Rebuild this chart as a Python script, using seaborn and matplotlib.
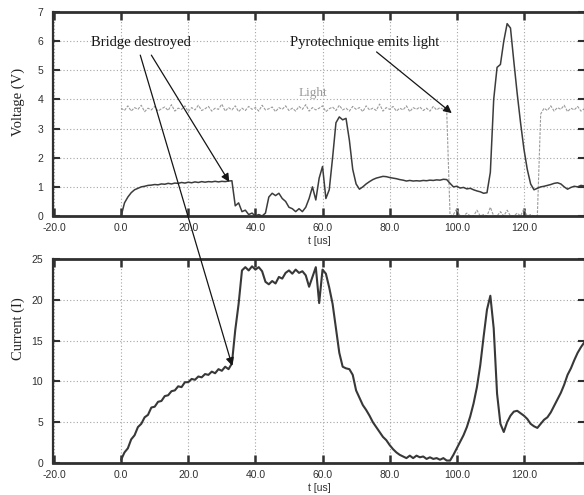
import numpy as np
import pandas as pd
import matplotlib
matplotlib.use("Agg")
import matplotlib.pyplot as plt
import seaborn as sns

# ---------------- data ----------------
t_us = list(range(0, 139))

voltage = [0.0, 0.45, 0.65, 0.8, 0.9, 0.95, 1.0, 1.02, 1.05, 1.06,
           1.08, 1.07, 1.1, 1.09, 1.12, 1.1, 1.13, 1.12, 1.15, 1.13,
           1.16, 1.14, 1.17, 1.15, 1.18, 1.16, 1.18, 1.17, 1.19, 1.17,
           1.19, 1.18, 1.2, 1.21, 0.35, 0.45, 0.15, 0.2, 0.05, 0.1,
           0.0, 0.05, 0.0, 0.1, 0.65, 0.78, 0.7, 0.78, 0.6, 0.5,
           0.3, 0.25, 0.15, 0.25, 0.15, 0.3, 0.6, 1.0, 0.55, 1.3,
           1.7, 0.6, 0.9, 2.0, 3.2, 3.4, 3.3, 3.35, 2.6, 1.6,
           1.1, 0.92, 1.0, 1.1, 1.18, 1.25, 1.3, 1.33, 1.36, 1.35,
           1.32, 1.3, 1.28, 1.25, 1.23, 1.2, 1.22, 1.2, 1.21, 1.2,
           1.22, 1.21, 1.23, 1.22, 1.24, 1.23, 1.26, 1.25, 1.12, 1.0,
           1.02, 0.96, 0.98, 0.93, 0.95, 0.9, 0.86, 0.83, 0.78, 0.8,
           1.5, 4.0, 5.1, 5.2, 6.0, 6.6, 6.45, 5.3, 4.2, 3.2,
           2.3, 1.6, 1.1, 0.9, 0.95, 1.0, 1.02, 1.05, 1.08, 1.12,
           1.14, 1.1, 1.0, 0.92, 0.98, 1.02, 1.0, 1.05, 1.03]

light = [3.70, 3.62, 3.78, 3.60, 3.72, 3.66, 3.80, 3.58, 3.70, 3.64,
         3.76, 3.60, 3.68, 3.74, 3.62, 3.82, 3.60, 3.70, 3.66, 3.78,
         3.58, 3.72, 3.64, 3.80, 3.62, 3.68, 3.76, 3.60, 3.70, 3.66,
         3.84, 3.60, 3.72, 3.64, 3.78, 3.58, 3.70, 3.62, 3.76, 3.66,
         3.72, 3.60, 3.80, 3.64, 3.68, 3.74, 3.58, 3.72, 3.66, 3.78,
         3.62, 3.70, 3.60, 3.76, 3.66, 3.82, 3.60, 3.72, 3.64, 3.70,
         3.78, 3.58, 3.68, 3.74, 3.62, 3.80, 3.64, 3.70, 3.60, 3.76,
         3.66, 3.72, 3.58, 3.78, 3.64, 3.70, 3.62, 3.84, 3.60, 3.72,
         3.66, 3.76, 3.60, 3.70, 3.64, 3.78, 3.58, 3.72, 3.66, 3.74,
         3.62, 3.70, 3.60, 3.76, 3.64, 3.72, 3.66, 3.60,
         0.0,
         0.05, 0.25, 0.0, 0.0, 0.1, 0.0, 0.0, 0.2, 0.0, 0.05,
         0.0, 0.3, 0.0, 0.0, 0.15, 0.0, 0.2, 0.0, 0.0, 0.1,
         0.0, 0.25, 0.0, 0.05, 0.0, 0.0,
         3.5, 3.70, 3.62, 3.78, 3.60, 3.72, 3.66, 3.80, 3.58, 3.70,
         3.64, 3.76, 3.60, 3.68]

current = [0.4, 1.3, 1.8, 2.9, 3.4, 4.4, 4.8, 5.6, 5.9, 6.8,
           6.9, 7.5, 7.6, 8.2, 8.3, 8.8, 8.9, 9.4, 9.3, 9.9,
           9.9, 10.3, 10.2, 10.6, 10.5, 10.9, 10.8, 11.2, 11.0, 11.5,
           11.3, 11.8, 11.5, 12.2, 16.3, 19.5, 23.6, 24.0, 23.6, 24.1,
           23.7, 24.0, 23.5, 22.2, 21.9, 22.3, 22.0, 22.8, 22.6, 23.3,
           23.6, 23.2, 23.7, 23.3, 23.5, 23.0, 21.6, 22.8, 24.0, 19.6,
           23.7, 23.2, 21.5, 19.5, 16.5, 13.5, 11.8, 11.6, 11.5, 10.8,
           8.9, 8.0, 7.1, 6.5, 5.8, 5.0, 4.4, 3.8, 3.2, 2.8,
           2.2, 1.7, 1.3, 1.0, 0.8, 0.6, 0.9, 0.6, 0.9, 0.7,
           0.8, 0.5, 0.7, 0.5, 0.6, 0.4, 0.6, 0.3, 0.3, 1.0,
           1.8, 2.6, 3.4, 4.4, 5.7, 7.3, 9.3, 12.0, 15.5, 18.8,
           20.5, 16.5, 8.5, 4.8, 3.8, 5.0, 5.8, 6.3, 6.4, 6.1,
           5.8, 5.4, 4.8, 4.5, 4.3, 4.8, 5.3, 5.6, 6.2, 7.0,
           7.8, 8.6, 9.6, 10.8, 11.6, 12.6, 13.5, 14.2, 14.8]

x_ticks = [-20, 0, 20, 40, 60, 80, 100, 120]
x_tick_labels = ["-20.0", "0.0", "20.0", "40.0", "60.0", "80.0", "100.0", "120.0"]
v_ticks = [0, 1, 2, 3, 4, 5, 6, 7]
i_ticks = [0, 5, 10, 15, 20, 25]

df = pd.DataFrame({"t": t_us, "voltage": voltage, "light": light, "current": current})

# ---------------- style ----------------
sns.set_style("white")
plt.rcParams["font.family"] = ["Liberation Sans", "DejaVu Sans"]
serif = ["Liberation Serif", "DejaVu Serif"]

W, H = 584, 495
fig = plt.figure(figsize=(W / 100, H / 100), dpi=100)
ax1 = fig.add_axes([53 / W, 1 - 216 / H, 532 / W, 204 / H])
ax2 = fig.add_axes([53 / W, 1 - 463 / H, 532 / W, 204 / H])

sns.lineplot(data=df, x="t", y="light", ax=ax1, color="#9c9c9c", lw=0.8,
             estimator=None, sort=False, linestyle=(0, (2.5, 1.2)))
sns.lineplot(data=df, x="t", y="voltage", ax=ax1, color="#3c3c3c", lw=1.1,
             estimator=None, sort=False)
sns.lineplot(data=df, x="t", y="current", ax=ax2, color="#383838", lw=1.5,
             estimator=None, sort=False)

for ax, yt, ylab, yl, ycoord in [(ax1, v_ticks, "Voltage (V)", (0, 7), 0.56),
                                  (ax2, i_ticks, "Current (I)", (0, 25), 0.66)]:
    ax.set_xlim(-20.3, 138.2)
    ax.set_ylim(*yl)
    ax.set_xticks(x_ticks)
    ax.set_xticklabels(x_tick_labels)
    ax.set_yticks(yt)
    ax.grid(True, ls=(0, (1, 2)), color="#a5a5a5", lw=0.8)
    ax.set_axisbelow(True)
    for side in ["top", "bottom"]:
        ax.spines[side].set_linewidth(2.0)
        ax.spines[side].set_color("#303030")
    for side in ["left", "right"]:
        ax.spines[side].set_linewidth(1.6)
        ax.spines[side].set_color("#303030")
    ax.tick_params(axis="x", direction="in", length=6, width=1.8, top=True,
                   bottom=True, labelsize=7.5, colors="#303030", pad=5)
    ax.tick_params(axis="y", direction="in", length=5, width=1.5, left=True,
                   right=True, labelsize=7.5, colors="#303030", pad=7)
    ax.set_xlabel("t [us]", fontsize=7.5, color="#303030", labelpad=2)
    ax.set_ylabel(ylab, family=serif, fontsize=10.5, color="#202020")
    ax.yaxis.set_label_coords(-0.053, ycoord)

# ---------------- annotations ----------------
ax1.text(6.0, 5.97, "Bridge destroyed", family=serif, fontsize=10.5,
         ha="center", va="center", color="#151515")
ax1.text(72.5, 5.94, "Pyrotechnique emits light", family=serif, fontsize=10.5,
         ha="center", va="center", color="#151515")
ax1.text(57.0, 4.22, "Light", family=serif, fontsize=9.5, ha="center",
         va="center", color="#9a9a9a")

arrow = dict(arrowstyle="-|>", color="#151515", lw=0.9, mutation_scale=12,
             shrinkA=0, shrinkB=0)
# long arrow reaching into the current panel: drawn on ax2 so it stays on top
ax2.annotate("", xy=(33.1, 11.9), xycoords=ax2.transData,
             xytext=(5.7, 5.52), textcoords=ax1.transData,
             arrowprops=arrow, annotation_clip=False)
ax1.annotate("", xy=(32.2, 1.17), xytext=(9.0, 5.52), arrowprops=arrow)
ax1.annotate("", xy=(98.5, 3.53), xytext=(76.1, 5.63), arrowprops=arrow)

fig.savefig("out.png", dpi=100)
